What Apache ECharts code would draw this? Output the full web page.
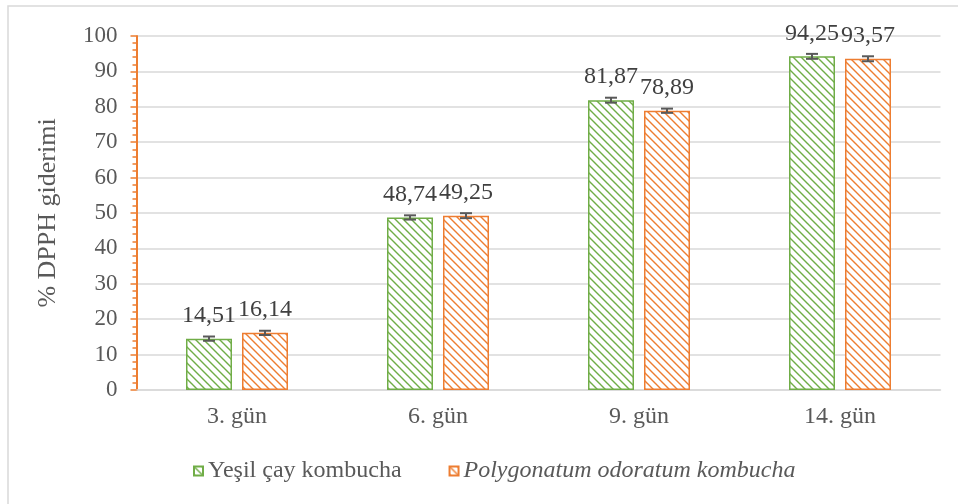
<!DOCTYPE html>
<html>
<head>
<meta charset="utf-8">
<script src="https://cdn.jsdelivr.net/npm/echarts@6/dist/echarts.min.js"></script>
<style>
  html, body { margin: 0; padding: 0; background: #fff; }
  #chart { width: 958px; height: 504px; }
</style>
</head>
<body>
<div id="chart"></div>
<script>
// data
const days = ['3. gün', '6. gün', '9. gün', '14. gün']
const yesilCay = [14.51, 48.74, 81.87, 94.25]
const polygonatum = [16.14, 49.25, 78.89, 93.57]
const yesilCayErr = [0.6, 0.6, 0.7, 0.7]
const polygonatumErr = [0.6, 0.7, 0.6, 0.7]
const seriesNames = ['Yeşil çay kombucha', 'Polygonatum odoratum kombucha']

const GREEN = '#70AD47'
const ORANGE = '#ED7D31'
const FONT = '"Liberation Serif", "DejaVu Serif", serif'

// diagonal hatch tile
const makeHatch = (color) => {
  const c = document.createElement('canvas')
  c.width = 8
  c.height = 8
  const ctx = c.getContext('2d')
  ctx.fillStyle = '#fff'
  ctx.fillRect(0, 0, 8, 8)
  ctx.strokeStyle = color
  ctx.lineWidth = 1.4
  ctx.beginPath()
  ctx.moveTo(-2, -2)
  ctx.lineTo(10, 10)
  ctx.moveTo(-2, 6)
  ctx.lineTo(2, 10)
  ctx.moveTo(6, -2)
  ctx.lineTo(10, 2)
  ctx.stroke()
  return c
}

const fmt = (v) => v.toFixed(2).replace('.', ',')

const BAR_W = 46
const BAR_GAP = 10

const errorSeries = (vals, errs, side) => ({
  type: 'custom',
  silent: true,
  z: 5,
  data: vals.map((v, i) => [i, v, errs[i]]),
  renderItem: (params, api) => {
    const i = api.value(0)
    const v = api.value(1)
    const e = api.value(2)
    const hi = api.coord([i, v + e])
    const lo = api.coord([i, v - e])
    const x = hi[0] + side * (BAR_W + BAR_GAP) / 2
    const cap = 6
    const style = { stroke: '#595959', lineWidth: 2 }
    return {
      type: 'group',
      children: [
        { type: 'line', shape: { x1: x, y1: hi[1], x2: x, y2: lo[1] }, style },
        { type: 'line', shape: { x1: x - cap, y1: hi[1], x2: x + cap, y2: hi[1] }, style },
        { type: 'line', shape: { x1: x - cap, y1: lo[1], x2: x + cap, y2: lo[1] }, style },
      ],
    }
  },
})

const barSeries = (name, vals, color) => ({
  name,
  type: 'bar',
  data: vals,
  barWidth: BAR_W,
  barGap: (BAR_GAP / BAR_W * 100) + '%',
  itemStyle: {
    color: { image: makeHatch(color), repeat: 'repeat' },
    borderColor: color,
    borderWidth: 1.5,
  },
  label: {
    show: true,
    position: 'top',
    distance: 11,
    formatter: (p) => fmt(p.value),
    fontFamily: FONT,
    fontSize: 24,
    color: '#404040',
  },
})

const chart = echarts.init(document.getElementById('chart'))

chart.setOption({
  animation: false,
  backgroundColor: '#fff',
  graphic: [
    {
      type: 'rect',
      shape: { x: 8, y: 6, width: 1000, height: 600 },
      style: { fill: 'none', stroke: '#d9d9d9', lineWidth: 1.5 },
      silent: true,
    },
  ],
  grid: { left: 136.5, right: 17.5, top: 36, bottom: 114 },
  legend: {
    left: 188,
    top: 454,
    itemWidth: 9,
    itemHeight: 9,
    itemGap: 47,
    icon: 'rect',
    textStyle: { fontFamily: FONT, fontSize: 24, color: '#595959' },
    data: [
      { name: seriesNames[0] },
      { name: seriesNames[1], textStyle: { fontStyle: 'italic' } },
    ],
  },
  xAxis: {
    type: 'category',
    data: days,
    axisLine: { lineStyle: { color: '#d9d9d9', width: 1.5 } },
    axisTick: { show: false },
    axisLabel: { fontFamily: FONT, fontSize: 24, color: '#595959', margin: 15 },
  },
  yAxis: {
    type: 'value',
    min: 0,
    max: 100,
    interval: 10,
    name: '% DPPH giderimi',
    nameLocation: 'middle',
    nameGap: 75,
    nameTextStyle: { fontFamily: FONT, fontSize: 26, color: '#595959' },
    axisLine: { show: true, lineStyle: { color: ORANGE, width: 2 } },
    axisTick: { show: true, length: 6, lineStyle: { color: ORANGE, width: 1.5 } },
    minorTick: { show: true, splitNumber: 5, length: 4, lineStyle: { color: ORANGE, width: 1.5 } },
    axisLabel: { fontFamily: FONT, fontSize: 23, color: '#595959', margin: 19 },
    splitLine: { lineStyle: { color: '#d9d9d9', width: 1.5 } },
  },
  series: [
    barSeries(seriesNames[0], yesilCay, GREEN),
    barSeries(seriesNames[1], polygonatum, ORANGE),
    errorSeries(yesilCay, yesilCayErr, -1),
    errorSeries(polygonatum, polygonatumErr, 1),
  ],
})
</script>
</body>
</html>
